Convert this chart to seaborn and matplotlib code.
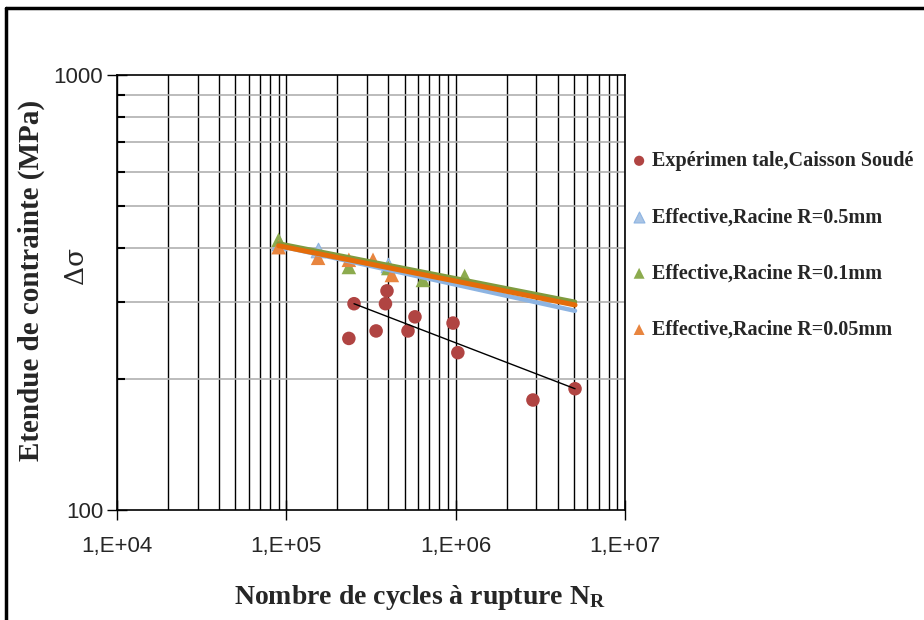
import matplotlib
matplotlib.use("Agg")
import matplotlib.pyplot as plt
from matplotlib.ticker import FixedLocator, LogLocator, NullFormatter
from matplotlib.lines import Line2D
import seaborn as sns

sns.set_style("white")
plt.rcParams["mathtext.default"] = "regular"

# experimental points (welded box)
exp_cycles = [2.34e5, 2.51e5, 3.39e5, 3.85e5, 3.93e5, 5.23e5, 5.75e5, 9.65e5, 1.03e6, 2.86e6, 5.07e6]
exp_stress = [248, 298, 258, 298, 319, 258, 278, 269, 230, 179, 190]
exp_fit_cycles = [2.51e5, 5.07e6]
exp_fit_stress = [298, 190]

# effective stress, root radius series
r05_cycles = [9.0e4, 1.54e5, 4.0e5]
r05_stress = [410, 396, 365]
r01_cycles = [9.0e4, 2.34e5, 4.0e5, 6.4e5, 1.13e6]
r01_stress = [418, 362, 360, 338, 345]
r005_cycles = [9.0e4, 1.54e5, 2.34e5, 3.25e5, 4.2e5]
r005_stress = [402, 380, 376, 376, 347]

fit_cycles = [9.0e4, 5.07e6]
fit_r05 = [405, 287]
fit_r01 = [410, 301]
fit_r005 = [405, 296]

labels = ["Expérimen tale,Caisson Soudé", "Effective,Racine R=0.5mm",
          "Effective,Racine R=0.1mm", "Effective,Racine R=0.05mm"]
xtick_vals = [1e4, 1e5, 1e6, 1e7]
xtick_labels = ["1,E+04", "1,E+05", "1,E+06", "1,E+07"]
ytick_vals = [100, 1000]
ytick_labels = ["100", "1000"]

fig = plt.figure(figsize=(9.24, 6.2), dpi=100)
ax = fig.add_axes([117 / 924, 110 / 620, 508 / 924, 435 / 620])
ax.set_xscale("log")
ax.set_yscale("log")
ax.set_xlim(1e4, 1e7)
ax.set_ylim(100, 1000)

# grid
ax.xaxis.set_minor_locator(LogLocator(base=10, subs=range(2, 10)))
ax.yaxis.set_minor_locator(LogLocator(base=10, subs=range(2, 10)))
ax.xaxis.set_minor_formatter(NullFormatter())
ax.yaxis.set_minor_formatter(NullFormatter())
ax.grid(True, which="both", axis="x", color="black", lw=1.0)
ax.grid(True, which="minor", axis="y", color="#b0b0b0", lw=1.2)
ax.set_axisbelow(True)

sns.scatterplot(x=exp_cycles, y=exp_stress, ax=ax, color="#B04442", s=95,
                marker="o", edgecolor="none", legend=False, zorder=3)
sns.scatterplot(x=r05_cycles, y=r05_stress, ax=ax, color="#A9C4E4", s=110,
                marker="^", edgecolor="#8DB4E2", linewidth=0.8, legend=False, zorder=3)
sns.scatterplot(x=r01_cycles, y=r01_stress, ax=ax, color="#8CAB4E", s=110,
                marker="^", edgecolor="none", legend=False, zorder=3)
sns.scatterplot(x=r005_cycles, y=r005_stress, ax=ax, color="#E8853F", s=110,
                marker="^", edgecolor="none", legend=False, zorder=3)
handles = list(ax.collections[:4])

sns.lineplot(x=exp_fit_cycles, y=exp_fit_stress, ax=ax, color="black", lw=1.0, zorder=4)
sns.lineplot(x=fit_cycles, y=fit_r05, ax=ax, color="#8DB4E2", lw=3.2, zorder=4)
sns.lineplot(x=fit_cycles, y=fit_r01, ax=ax, color="#7F9B3E", lw=3.2, zorder=4)
sns.lineplot(x=fit_cycles, y=fit_r005, ax=ax, color="#E46C0A", lw=3.6, zorder=5)

# ticks
ax.xaxis.set_major_locator(FixedLocator(xtick_vals))
ax.set_xticklabels(xtick_labels, fontsize=16, family="Liberation Sans")
ax.yaxis.set_major_locator(FixedLocator(ytick_vals))
ax.set_yticklabels(ytick_labels, fontsize=16, family="Liberation Sans")
ax.tick_params(axis="both", which="major", direction="inout", length=14, width=1,
               color="black", bottom=True, left=True, pad=12)
ax.tick_params(axis="y", which="minor", direction="in", length=6, width=1.5,
               color="black", left=True)
ax.tick_params(axis="y", which="major", pad=3)
ax.tick_params(axis="x", which="minor", bottom=False)
for sp in ax.spines.values():
    sp.set_color("black")
    sp.set_linewidth(1.2)

ax.set_xlabel("Nombre de cycles à rupture N$_R$", fontsize=20, fontweight="bold",
              family="Liberation Serif")
ax.xaxis.set_label_coords((420 - 117) / 508, (510 - 583) / 435)
ax.set_ylabel("Etendue de contrainte (MPa)", fontsize=21, fontweight="bold",
              family="Liberation Serif")
ax.yaxis.set_label_coords((45 - 117) / 508, (510 - 280) / 435)
fig.text(76 / 924, 1 - 265 / 620, "Δσ", rotation=90, fontsize=19,
         family="DejaVu Serif", ha="center", va="center")

fig.legend(handles, labels, loc="upper left", bbox_to_anchor=(621 / 924, 1 - 141 / 620),
           frameon=False, prop={"family": "Liberation Serif", "weight": "bold", "size": 14.5},
           labelspacing=1.8, handletextpad=0.25, handlelength=0.8, borderpad=0,
           markerscale=0.75)

# outer border of the picture
fig.add_artist(Line2D([6 / 924, 6 / 924], [0, 1 - 8 / 620], transform=fig.transFigure,
                      color="black", lw=2.5))
fig.add_artist(Line2D([6 / 924, 1], [1 - 8 / 620, 1 - 8 / 620], transform=fig.transFigure,
                      color="black", lw=2.5))

fig.savefig("out.png", dpi=100)
